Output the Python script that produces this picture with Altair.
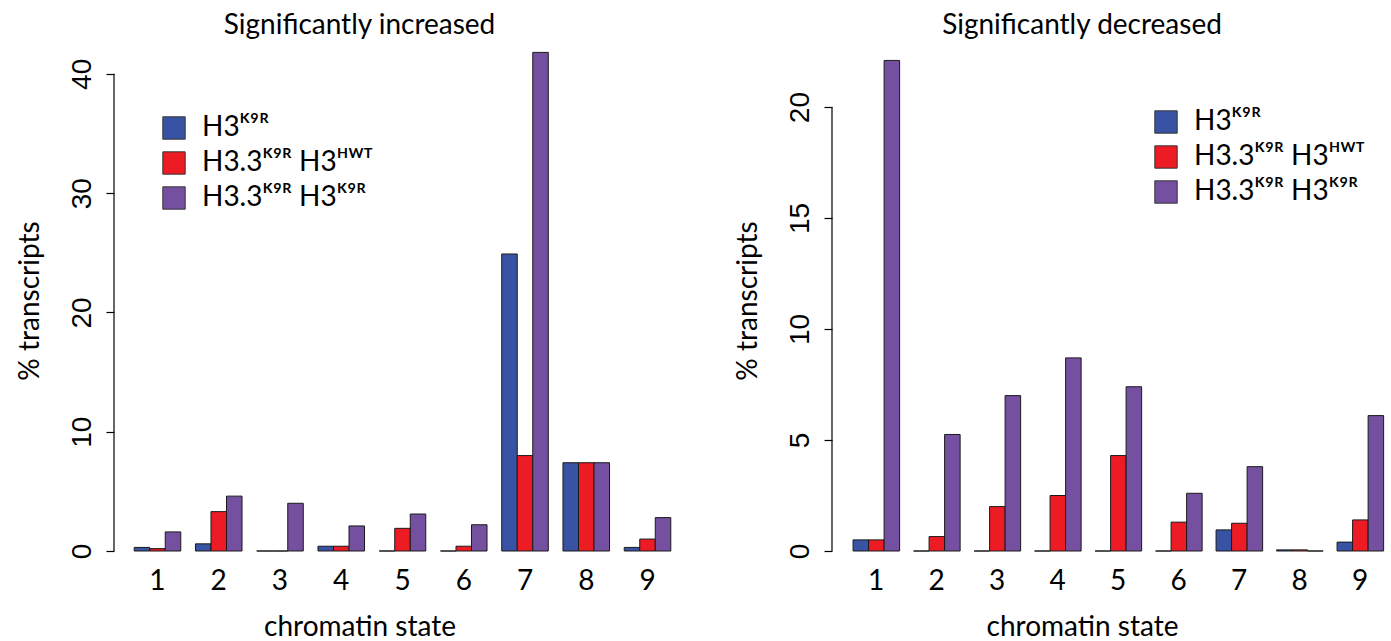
import altair as alt
import pandas as pd

states = [1, 2, 3, 4, 5, 6, 7, 8, 9]
series = ["H3ᴷ⁹ᴿ", "H3.3ᴷ⁹ᴿ H3ᴴᵂᵀ", "H3.3ᴷ⁹ᴿ H3ᴷ⁹ᴿ"]
colors = ["#3953A4", "#ED1C24", "#7550A1"]

inc_h3k9r = [0.3, 0.6, 0.0, 0.4, 0.0, 0.0, 24.9, 7.4, 0.3]
inc_h33_hwt = [0.2, 3.3, 0.0, 0.4, 1.9, 0.4, 8.0, 7.4, 1.0]
inc_h33_k9r = [1.6, 4.6, 4.0, 2.1, 3.1, 2.2, 41.8, 7.4, 2.8]

dec_h3k9r = [0.5, 0.0, 0.0, 0.0, 0.0, 0.0, 0.95, 0.05, 0.4]
dec_h33_hwt = [0.5, 0.65, 2.0, 2.5, 4.3, 1.3, 1.25, 0.05, 1.4]
dec_h33_k9r = [22.1, 5.25, 7.0, 8.7, 7.4, 2.6, 3.8, 0.0, 6.1]

inc_ticks = [0, 10, 20, 30, 40]
dec_ticks = [0, 5, 10, 15, 20]

FONT = "Lato"
TFONT = "Liberation Sans"
FS = 28


def long_df(vals):
    rows = []
    for s, v in zip(series, vals):
        for st, x in zip(states, v):
            rows.append({"state": st, "series": s, "value": x})
    return pd.DataFrame(rows)


def panel(vals, ticks, ymax, title, title_dx, lx, ly, xpad_outer, xalign, width):
    df = long_df(vals)
    yscale = alt.Scale(domain=[0, ymax], nice=False, zero=True)
    bars = alt.Chart(df).mark_bar(stroke="#1a1a1a", strokeWidth=1, opacity=1).encode(
        x=alt.X(
            "state:O",
            scale=alt.Scale(paddingInner=0.24, paddingOuter=xpad_outer, align=xalign),
            axis=alt.Axis(
                title="chromatin state", labelAngle=0, domain=False, ticks=False,
                labelFontSize=FS, labelFont=FONT, labelPadding=16,
                titleFontSize=FS, titleFont=FONT, titleFontWeight="normal",
                titlePadding=18, titleX=width / 2 + title_dx,
            ),
        ),
        xOffset=alt.XOffset("series:N", sort=series,
                            scale=alt.Scale(paddingInner=0, paddingOuter=0)),
        y=alt.Y(
            "value:Q", scale=yscale,
            axis=alt.Axis(
                title="% transcripts", values=ticks, domain=False, grid=False,
                tickSize=8, tickColor="black", tickWidth=1.2,
                labelAngle=270, labelAlign="center", labelBaseline="bottom",
                labelFontSize=FS, labelFont=TFONT, labelPadding=10,
                titleFontSize=FS, titleFont=FONT, titleFontWeight="normal",
                titlePadding=24,
            ),
        ),
        color=alt.Color(
            "series:N", sort=series,
            scale=alt.Scale(domain=series, range=colors),
            legend=alt.Legend(
                orient="none", legendX=lx, legendY=ly, title=None,
                symbolType="square", symbolSize=500, symbolStrokeColor="#333",
                symbolStrokeWidth=1, symbolOpacity=1,
                labelFontSize=FS, labelFont=FONT, labelOffset=14, labelLimit=0,
                rowPadding=7, padding=0,
            ),
        ),
    )
    axis_df = pd.DataFrame({"lo": [ticks[0]], "hi": [ticks[-1]]})
    axis_line = alt.Chart(axis_df).mark_rule(color="black", strokeWidth=1.2).encode(
        y=alt.Y("lo:Q", scale=yscale),
        y2="hi:Q",
        x=alt.value(0),
    )
    return alt.layer(bars, axis_line).properties(
        width=width, height=501,
        title=alt.TitleParams(title, fontSize=FS, font=FONT, fontWeight="normal",
                              dx=title_dx, offset=10),
    )


left = panel([inc_h3k9r, inc_h33_hwt, inc_h33_k9r], inc_ticks, 42.0,
             "Significantly increased", -43, 46, 64, 0.33, 0.5, 577)
right = panel([dec_h3k9r, dec_h33_hwt, dec_h33_k9r], dec_ticks, 22.57,
              "Significantly decreased", -28, 320, 58, 0.215, 0.81, 556)

chart = alt.hconcat(left, right, spacing=43).resolve_scale(
    color="independent", y="independent", x="independent"
).resolve_legend(color="independent").configure_view(stroke=None).properties(
    padding={"left": 16, "top": 12, "right": 0, "bottom": 0}
)

chart.save("out.html", embed_options={"renderer": "svg", "actions": False})
